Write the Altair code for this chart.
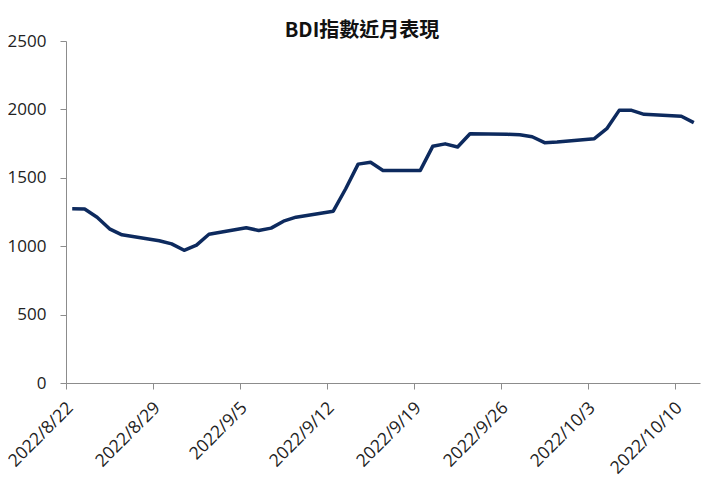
import altair as alt
import pandas as pd

dates = [
    "2022-08-22", "2022-08-23", "2022-08-24", "2022-08-25", "2022-08-26",
    "2022-08-29", "2022-08-30", "2022-08-31", "2022-09-01", "2022-09-02",
    "2022-09-05", "2022-09-06", "2022-09-07", "2022-09-08", "2022-09-09",
    "2022-09-12", "2022-09-13", "2022-09-14", "2022-09-15", "2022-09-16",
    "2022-09-19", "2022-09-20", "2022-09-21", "2022-09-22", "2022-09-23",
    "2022-09-26", "2022-09-27", "2022-09-28", "2022-09-29", "2022-09-30",
    "2022-10-03", "2022-10-04", "2022-10-05", "2022-10-06", "2022-10-07",
    "2022-10-10", "2022-10-11",
]
values = [
    1274, 1272, 1212, 1127, 1083,
    1040, 1017, 970, 1008, 1087,
    1135, 1115, 1132, 1183, 1212,
    1256, 1420, 1600, 1613, 1554,
    1554, 1730, 1748, 1725, 1822,
    1818, 1815, 1800, 1757, 1762,
    1786, 1859, 1993, 1993, 1964,
    1950, 1903,
]
tick_dates = [(2022, 8, 22), (2022, 8, 29), (2022, 9, 5), (2022, 9, 12),
              (2022, 9, 19), (2022, 9, 26), (2022, 10, 3), (2022, 10, 10)]
y_ticks = [0, 500, 1000, 1500, 2000, 2500]
title_text = "BDI指數近月表現"

df = pd.DataFrame({"date": [d + "T12:00:00" for d in dates], "BDI": values})

axis_color = "#8c8c8c"
label_font = "Open Sans"

x_axis = alt.Axis(
    values=[alt.DateTime(year=y, month=m, date=d) for (y, m, d) in tick_dates],
    format="%Y/%-m/%-d", formatType="time", labelAngle=-45, labelAlign="right",
    labelBaseline="middle", labelPadding=16, labelOffset=4, tickSize=6,
    grid=False, domainColor=axis_color, tickColor=axis_color, title=None,
    labelFont=label_font, labelFontSize=17.5, labelColor="#222222", labelFlush=False,
)
y_axis = alt.Axis(
    values=y_ticks, format="d", tickSize=6, grid=False, domainColor=axis_color,
    tickColor=axis_color, title=None, labelPadding=14, labelFont=label_font,
    labelFontSize=17, labelColor="#222222",
)

chart = alt.Chart(df).mark_line(color="#0d2a5e", strokeWidth=3.5, strokeJoin="round").encode(
    x=alt.X("date:T", axis=x_axis,
            scale=alt.Scale(domain=[alt.DateTime(year=2022, month=8, date=22),
                                    alt.DateTime(year=2022, month=10, date=12)])),
    y=alt.Y("BDI:Q", axis=y_axis, scale=alt.Scale(domain=[0, 2500], nice=False)),
).properties(
    width=634, height=342,
    autosize=alt.AutoSizeParams(type="none"),
    padding={"left": 58, "top": 33, "right": 12, "bottom": 98},
    title=alt.TitleParams(title_text, font="Noto Sans CJK TC", fontSize=20,
                          fontWeight="bold", color="#111111", dx=-21, offset=-9,
                          anchor="middle"),
).configure_view(stroke=None)

chart.save("out.html", embed_options={"renderer": "svg", "actions": False})
